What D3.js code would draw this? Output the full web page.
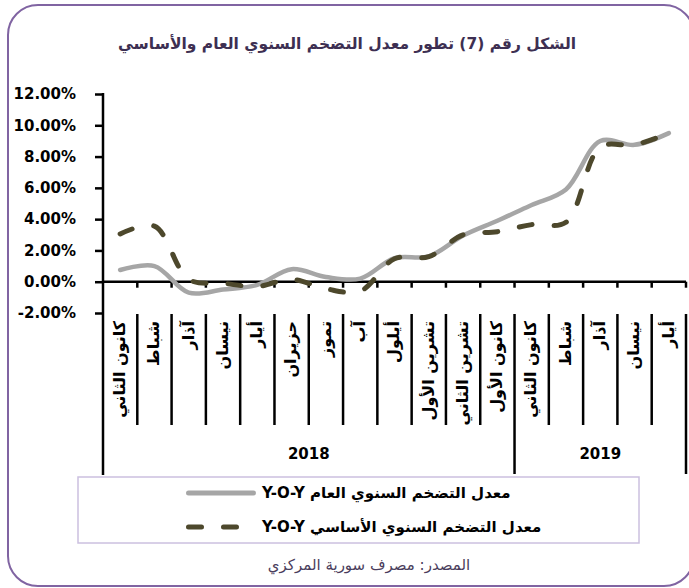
<!DOCTYPE html>
<html lang="ar">
<head>
  <meta charset="UTF-8">
  <title>تطور معدل التضخم السنوي العام والأساسي</title>
  <script src="https://d3js.org/d3.v7.min.js"></script>
  <style>
    body { margin: 0; font-family: "DejaVu Sans", sans-serif; background: #fff; }
    svg text { font-family: "DejaVu Sans", sans-serif; }
    .ylab { font-size: 15px; font-weight: bold; fill: #000; }
    .month { font-size: 16px; font-weight: bold; fill: #000; }
    .year { font-size: 15px; font-weight: bold; fill: #000; }
    .legend-text { font-size: 15px; font-weight: bold; fill: #000; }
  </style>
</head>
<body>
  <svg width="689" height="588"></svg>

  <script>
    // data (percent)
    const months = ["كانون الثاني", "شباط", "آذار", "نيسان", "أيار", "حزيران", "تموز", "آب",
                    "أيلول", "تشرين الأول", "تشرين الثاني", "كانون الأول",
                    "كانون الثاني", "شباط", "آذار", "نيسان", "أيار"];
    const years = ["2018", "2019"];
    const yearMonths = [12, 5];
    const generalYoY = [0.75, 1.0, -0.7, -0.5, -0.2, 0.8, 0.3, 0.2, 1.5, 1.62, 2.95, 3.9, 4.9, 5.9, 9.0, 8.75, 9.5];
    const coreYoY = [3.05, 3.55, 0.15, -0.1, -0.3, 0.15, -0.45, -0.6, 1.47, 1.6, 3.0, 3.2, 3.65, 3.8, 8.6, 8.75, 9.5];
    const yTicks = [-2, 0, 2, 4, 6, 8, 10, 12];
    const seriesNames = ["معدل التضخم السنوي العام Y-O-Y", "معدل التضخم السنوي الأساسي Y-O-Y"];
    const title = "الشكل رقم (7) تطور معدل التضخم السنوي العام والأساسي";
    const source = "المصدر: مصرف سورية المركزي";

    const svg = d3.select("svg");

    // outer frame
    svg.append("rect")
      .attr("x", 8).attr("y", 5)
      .attr("width", 686).attr("height", 581)
      .attr("rx", 30)
      .attr("fill", "#fff")
      .attr("stroke", "#8064a2")
      .attr("stroke-width", 2);

    svg.append("text")
      .attr("x", 347).attr("y", 49)
      .attr("text-anchor", "middle")
      .attr("font-size", 15.5).attr("font-weight", "bold")
      .attr("fill", "#3d2f52")
      .text(title);

    // scales
    const x = d3.scaleBand()
      .domain(d3.range(months.length))
      .range([103, 686])
      .paddingInner(0).paddingOuter(0);
    const cx = i => x(i) + x.bandwidth() / 2;

    const y = d3.scaleLinear().domain([-2, 12]).range([313, 94]);

    // y axis
    const yAxis = svg.append("g")
      .attr("transform", "translate(103,0)")
      .call(d3.axisLeft(y).tickValues(yTicks).tickSize(8).tickPadding(19)
        .tickFormat(d => d.toFixed(2) + "%"));
    yAxis.attr("font-family", null).attr("font-size", null);
    yAxis.select(".domain").remove();
    yAxis.selectAll(".tick line").attr("stroke", "#000").attr("stroke-width", 2.5);
    yAxis.selectAll(".tick text").attr("class", "ylab");

    svg.append("line")
      .attr("x1", 103).attr("x2", 103)
      .attr("y1", y(12) - 1).attr("y2", 475)
      .attr("stroke", "#000").attr("stroke-width", 2.5);

    // x axis at zero
    svg.append("line")
      .attr("x1", 103).attr("x2", 686)
      .attr("y1", y(0)).attr("y2", y(0))
      .attr("stroke", "#000").attr("stroke-width", 2.5);

    const bounds = d3.range(1, months.length + 1).map(i => x(i - 1) + x.bandwidth());
    svg.selectAll(".xtick")
      .data(bounds)
      .enter().append("line")
      .attr("x1", d => d).attr("x2", d => d)
      .attr("y1", y(0)).attr("y2", y(0) + 6)
      .attr("stroke", "#000").attr("stroke-width", 2.5);

    // month separators and year separators
    const yearEnds = d3.cumsum(yearMonths);
    svg.selectAll(".msep")
      .data(bounds)
      .enter().append("line")
      .attr("x1", d => d).attr("x2", d => d)
      .attr("y1", 314)
      .attr("y2", (d, i) => yearEnds.includes(i + 1) ? 474 : 425)
      .attr("stroke", "#000").attr("stroke-width", 2.5);

    svg.selectAll(".month")
      .data(months)
      .enter().append("text")
      .attr("class", "month")
      .attr("transform", (d, i) => `translate(${cx(i)},321) rotate(-90)`)
      .attr("text-anchor", "end")
      .attr("dy", "0.3em")
      .text(d => d);

    svg.selectAll(".year")
      .data(years)
      .enter().append("text")
      .attr("class", "year")
      .attr("x", (d, i) => {
        const a = i === 0 ? 0 : yearEnds[i - 1];
        return (x(a) + x(yearEnds[i] - 1) + x.bandwidth()) / 2;
      })
      .attr("y", 459)
      .attr("text-anchor", "middle")
      .text(d => d);

    // lines
    const line = d3.line()
      .x((d, i) => cx(i))
      .y(d => y(d))
      .curve(d3.curveCatmullRom.alpha(0.5));

    svg.append("path")
      .datum(generalYoY)
      .attr("d", line)
      .attr("fill", "none")
      .attr("stroke", "#a6a6a6")
      .attr("stroke-width", 4.5)
      .attr("stroke-linecap", "round");

    svg.append("path")
      .datum(coreYoY)
      .attr("d", line)
      .attr("fill", "none")
      .attr("stroke", "#4d482c")
      .attr("stroke-width", 5)
      .attr("stroke-linecap", "round")
      .attr("stroke-dasharray", "13,22");

    // legend
    svg.append("rect")
      .attr("x", 78).attr("y", 477)
      .attr("width", 561).attr("height", 66)
      .attr("fill", "#fff")
      .attr("stroke", "#cbc0df")
      .attr("stroke-width", 1.5);

    svg.append("line")
      .attr("x1", 188.5).attr("x2", 253.5)
      .attr("y1", 493).attr("y2", 493)
      .attr("stroke", "#a6a6a6").attr("stroke-width", 5)
      .attr("stroke-linecap", "round");

    svg.append("line")
      .attr("x1", 188.5).attr("x2", 237.5)
      .attr("y1", 527).attr("y2", 527)
      .attr("stroke", "#4d482c").attr("stroke-width", 5)
      .attr("stroke-linecap", "round")
      .attr("stroke-dasharray", "13,22");

    svg.selectAll(".legend-text")
      .data(seriesNames)
      .enter().append("text")
      .attr("class", "legend-text")
      .attr("direction", "rtl")
      .attr("x", 262)
      .attr("y", (d, i) => 498 + i * 34)
      .attr("text-anchor", "end")
      .text(d => d);

    svg.append("text")
      .attr("x", 369).attr("y", 570)
      .attr("text-anchor", "middle")
      .attr("font-size", 15)
      .attr("fill", "#4a3d5c")
      .text(source);
  </script>
</body>
</html>
